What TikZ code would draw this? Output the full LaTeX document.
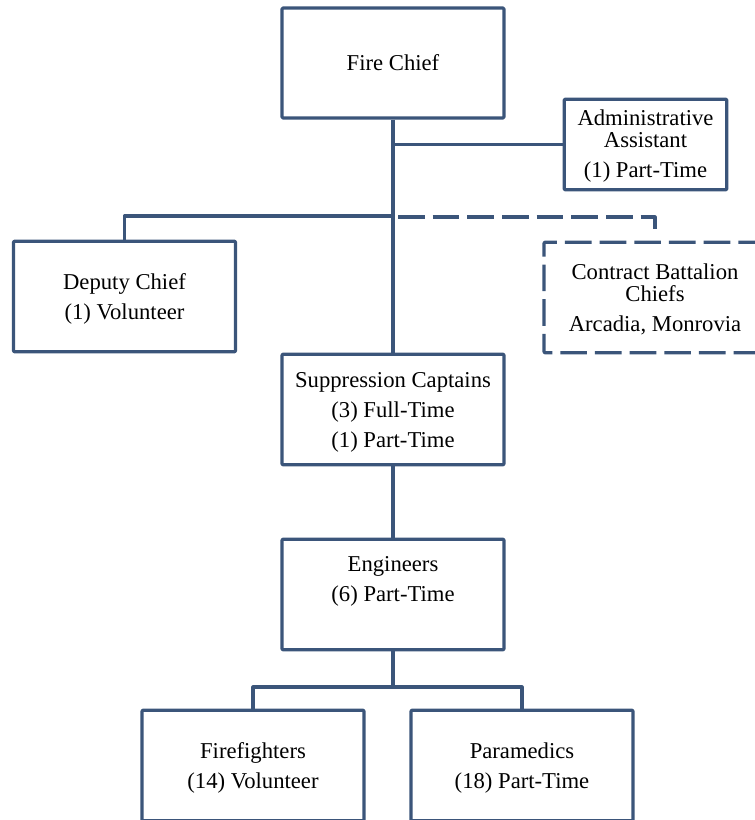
\documentclass[tikz,border=0pt]{standalone}
\usepackage{fontspec}
\setmainfont{Liberation Serif}
\definecolor{orgblue}{RGB}{59,85,122}
\begin{document}
\begin{tikzpicture}[x=0.75pt,y=-0.75pt,
  orgline/.style={draw=orgblue,line width=2.4pt,line join=round},
  orgbox/.style={orgline,rectangle,rounded corners=0.8pt,inner sep=0pt},
  orgtext/.style={align=center,font=\fontsize{17}{16.5}\selectfont,text=black,yshift=-2.5pt},
  dashedbox/.style={orgbox,dash pattern=on 20pt off 6pt},
  wide/.style={minimum width=166.5pt},
  tall/.style={minimum height=83pt}]
\useasboundingbox (0,0) rectangle (755,820);
\clip (0,0) rectangle (755,820);
\node[orgbox,wide,minimum height=82.5pt,label={[orgtext,name=chieft,yshift=2.8pt]center:Fire Chief}] (chief) at (393,63) {};
\node[orgbox,minimum width=122pt,minimum height=68pt,
  label={[orgtext,name=admint,yshift=1pt]center:Administrative\\Assistant\\[6pt](1) Part-Time}] (admin) at (645.5,144.5) {};
\node[orgbox,wide,tall,label={[orgtext,name=deputyt,yshift=0.6pt]center:Deputy Chief\\[6pt](1) Volunteer}] (deputy) at (124.5,296.5) {};
\node[dashedbox,wide,tall,
  label={[orgtext,name=contractt,yshift=1pt]center:Contract Battalion\\Chiefs\\[6pt]Arcadia, Monrovia}] (contract) at (655,297.5) {};
\node[orgbox,wide,tall,
  label={[orgtext,name=suppt]center:Suppression Captains\\[6pt](3) Full-Time\\[6pt](1) Part-Time}] (supp) at (393,409.5) {};
\node[orgbox,wide,tall,label={[orgtext,name=engt,yshift=12pt]center:Engineers\\[6pt](6) Part-Time}] (eng) at (393,594.5) {};
\node[orgbox,wide,tall,label={[orgtext,name=fft,yshift=0.6pt]center:Firefighters\\[6pt](14) Volunteer}] (ff) at (253,765.5) {};
\node[orgbox,wide,tall,label={[orgtext,name=pmt,yshift=0.6pt]center:Paramedics\\[6pt](18) Part-Time}] (pm) at (522,765.5) {};
\coordinate (jdep) at (393,216);
\coordinate (jcon) at (655,233);
\coordinate (jbot) at (393,687);
\draw[orgline] (chief.south) -- (supp.north);
\draw[orgline] (chief.south |- admin.west) -- (admin.west);
\draw[orgline] (jdep) -| (deputy.north);
\draw[orgline,dash pattern=on 20pt off 6pt] (jdep) ++(5,1) -| (jcon);
\draw[orgline] (supp.south) -- (eng.north);
\draw[orgline] (eng.south) -- (jbot);
\draw[orgline] (jbot) -| (ff.north);
\draw[orgline] (jbot) -| (pm.north);
\end{tikzpicture}
\end{document}
